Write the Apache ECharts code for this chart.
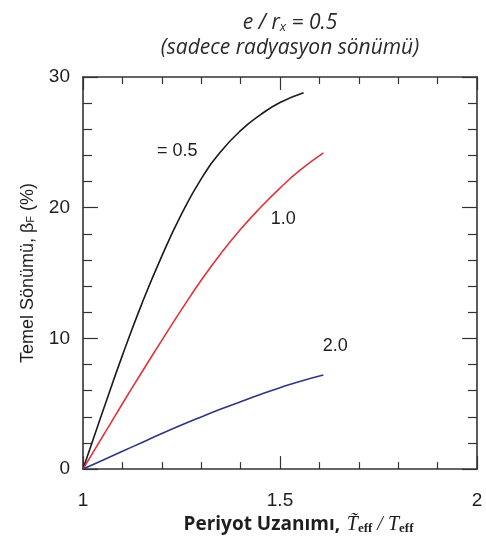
<!DOCTYPE html>
<html>
<head>
<meta charset="utf-8">
<script src="https://cdn.jsdelivr.net/npm/echarts@6/dist/echarts.min.js"></script>
<style>
  html, body { margin: 0; padding: 0; background: #fff; }
  #main { width: 486px; height: 540px; }
</style>
</head>
<body>
<div id="main"></div>
<script>
// period lengthening T~eff/Teff vs foundation damping (%)
const xHalf = [1.00, 1.05, 1.10, 1.15, 1.20, 1.25, 1.30, 1.35, 1.40, 1.45, 1.50, 1.56];
const yHalf = [0, 4.4, 8.7, 12.7, 16.3, 19.5, 22.2, 24.3, 25.9, 27.1, 28.05, 28.8];

const xOne = [1.00, 1.05, 1.10, 1.15, 1.20, 1.25, 1.30, 1.35, 1.40, 1.45, 1.50, 1.55, 1.61];
const yOne = [0, 2.5, 5.0, 7.45, 9.85, 12.2, 14.45, 16.5, 18.35, 20.0, 21.5, 22.85, 24.2];

const xTwo = [1.00, 1.05, 1.10, 1.15, 1.20, 1.25, 1.30, 1.35, 1.40, 1.45, 1.50, 1.55, 1.61];
const yTwo = [0, 0.68, 1.36, 2.04, 2.72, 3.37, 3.99, 4.59, 5.16, 5.71, 6.23, 6.71, 7.2];

const curveNames = ['= 0.5', '1.0', '2.0'];
const labelAt = [[1.239, 24.3], [1.508, 19.1], [1.640, 9.45]];

const xTicks = ['1', '1.5', '2'];
const yTicks = ['0', '10', '20', '30'];

const zip = (xs, ys) => xs.map((x, i) => [x, ys[i]]);

const chart = echarts.init(document.getElementById('main'));

const frame = '#333';
const ink = '#1e1e1e';
function xAxisCfg(pos, showLabel) {
  return {
    type: 'value', position: pos, min: 1, max: 2, interval: 0.5,
    axisLine: { show: true, onZero: false, lineStyle: { color: frame, width: 1.6 } },
    axisTick: { show: true, inside: true, length: 13, lineStyle: { color: frame, width: 1.2 } },
    minorTick: { show: true, splitNumber: 5, length: 7, lineStyle: { color: frame, width: 1.2 } },
    splitLine: { show: false },
    axisLabel: {
      show: showLabel, margin: 22, color: ink, fontSize: 19, fontFamily: 'Liberation Sans',
      formatter: v => xTicks[Math.round((v - 1) / 0.5)]
    }
  };
}
function yAxisCfg(pos, showLabel) {
  return {
    type: 'value', position: pos, min: 0, max: 30, interval: 10,
    axisLine: { show: true, onZero: false, lineStyle: { color: frame, width: 1.6 } },
    axisTick: { show: true, inside: true, length: 15, lineStyle: { color: frame, width: 1.2 } },
    minorTick: { show: true, splitNumber: 5, length: 9, lineStyle: { color: frame, width: 1.2 } },
    splitLine: { show: false },
    axisLabel: {
      show: showLabel, margin: 13, color: ink, fontSize: 19, fontFamily: 'Liberation Sans',
      formatter: v => yTicks[Math.round(v / 10)]
    }
  };
}

const xMain = xAxisCfg('bottom', true);
xMain.name = '{a|Periyot Uzanımı,}  {t|T\u0303}{s|eff}{t| / T}{s|eff}';
xMain.nameLocation = 'middle';
xMain.nameGap = 37;
xMain.nameTextStyle = {
  padding: [0, 0, 0, 37],
  rich: {
    a: { fontFamily: 'Open Sans', fontWeight: 'bold', fontSize: 19, color: ink },
    t: { fontFamily: 'Liberation Serif', fontStyle: 'italic', fontSize: 20, color: ink },
    s: { fontFamily: 'Liberation Serif', fontWeight: 'bold', fontSize: 13, color: ink, padding: [7, 0, 0, 0] }
  }
};

const yMain = yAxisCfg('left', true);
yMain.name = 'Temel Sönümü, β{s|F} (%)';
yMain.nameLocation = 'middle';
yMain.nameGap = 46;
yMain.nameTextStyle = {
  fontFamily: 'Liberation Sans', fontSize: 18, color: ink,
  rich: { s: { fontFamily: 'Liberation Sans', fontSize: 11, color: ink, padding: [6, 0, 0, 0] } }
};

function curve(name, xs, ys, color, idx) {
  return {
    name: name, type: 'line', smooth: true, symbol: 'none',
    data: zip(xs, ys),
    lineStyle: { color: color, width: 1.6 },
    markPoint: {
      symbol: 'circle', symbolSize: 0,
      label: { show: true, formatter: name, color: ink, fontSize: 18, fontFamily: 'Liberation Sans' },
      data: [{ coord: labelAt[idx] }]
    }
  };
}

chart.setOption({
  animation: false,
  backgroundColor: '#fff',
  title: {
    text: '{i|e / r}{s|x}{i| = 0.5}\n{i|(sadece radyasyon sönümü)}',
    left: 285, top: 6, textAlign: 'center',
    textStyle: {
      fontWeight: 'normal',
      lineHeight: 25,
      rich: {
        i: { fontFamily: 'Open Sans', fontStyle: 'italic', fontWeight: 'normal', fontSize: 21, color: '#2a2a2a', lineHeight: 25 },
        s: { fontFamily: 'Open Sans', fontStyle: 'italic', fontWeight: 'normal', fontSize: 13, color: '#2a2a2a', padding: [7, 0, 0, 0] }
      }
    }
  },
  grid: { left: 83, right: 9, top: 77, bottom: 69 },
  xAxis: [xMain, xAxisCfg('top', false)],
  yAxis: [yMain, yAxisCfg('right', false)],
  series: [
    curve(curveNames[0], xHalf, yHalf, '#1a1a1a', 0),
    curve(curveNames[1], xOne, yOne, '#e3323b', 1),
    curve(curveNames[2], xTwo, yTwo, '#2e3585', 2)
  ]
});
</script>
</body>
</html>
